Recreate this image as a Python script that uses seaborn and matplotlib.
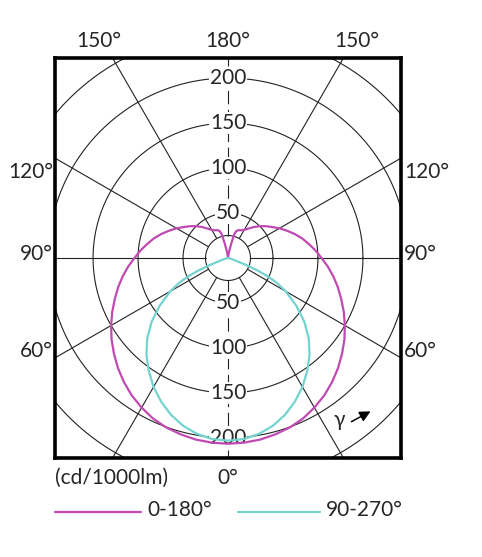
import numpy as np
import pandas as pd
import seaborn as sns
import matplotlib.pyplot as plt
from matplotlib.lines import Line2D

# Lichtstärkeverteilung (cd/1000lm), Winkel gamma von unten (0°) nach oben (180°)
gamma_c0 = [0, 5, 10, 15, 20, 25, 30, 35, 40, 45, 50, 55, 60, 65, 70, 75, 80, 85, 90,
            95, 100, 105, 110, 115, 120, 125, 130, 135, 140, 145, 150, 155, 160, 163,
            165, 167, 169, 172, 180]
intensity_c0 = [206.5, 206, 205, 203, 200.5, 197, 192, 186.5, 180, 173, 165.5, 158, 150,
                142, 134, 126.5, 119, 111.5, 104, 97.5, 91, 85, 78.5, 72, 66, 60, 55, 50,
                45, 40, 36, 34, 33, 31, 28, 18, 10, 5, 0]

gamma_c90 = [0, 5, 10, 15, 20, 25, 30, 35, 40, 45, 50, 55, 60, 63, 65, 67, 68, 69, 70,
             75, 80, 90]
intensity_c90 = [203, 202, 198.5, 193, 185.5, 176, 165.5, 153.5, 141, 127, 111, 93, 74, 61,
                 50, 37, 28, 20, 12, 4, 2, 0]

plane_names = ['0-180°', '90-270°']
plane_colors = {'0-180°': '#c04ab2', '90-270°': '#72d3cf'}

ring_values = [25, 50, 100, 150, 200, 250, 300]
ring_labels = [50, 100, 150, 200]
spoke_angles = [30, 60, 90, 120, 150]


def to_xy(gammas, values):
    # linke Hälfte (C180 / C270) und rechte Hälfte (C0 / C90) spiegeln
    g = np.radians(np.array(gammas, dtype=float))
    v = np.array(values, dtype=float)
    x = np.concatenate([-(v * np.sin(g))[::-1], v * np.sin(g)])
    y = np.concatenate([-(v * np.cos(g))[::-1], -v * np.cos(g)])
    return x, y


frames = []
for name, gam, val in [(plane_names[0], gamma_c0, intensity_c0),
                       (plane_names[1], gamma_c90, intensity_c90)]:
    x, y = to_xy(gam, val)
    frames.append(pd.DataFrame({'x': x, 'y': y, 'plane': name}))
curve_data = pd.concat(frames, ignore_index=True)

sns.set_style('white')
plt.rcParams['font.family'] = ['Lato', 'DejaVu Sans']

W, H = 482, 557
fig = plt.figure(figsize=(W / 100, H / 100), dpi=100)
ax = fig.add_axes([55 / W, 1 - 458 / H, 346 / W, 400 / H])

# Gitter: Kreise und Strahlen
t = np.linspace(0, 2 * np.pi, 400)
for r in ring_values:
    ax.plot(r * np.cos(t), r * np.sin(t), color='#222222', lw=0.8, zorder=1)
for a in spoke_angles:
    ar = np.radians(a)
    for s in (-1, 1):
        ax.plot([s * 25 * np.sin(ar), s * 400 * np.sin(ar)],
                [-25 * np.cos(ar), -400 * np.cos(ar)], color='#222222', lw=0.8, zorder=1)
for s in (-1, 1):
    ax.plot([0, 0], [s * 25, s * 400], color='#222222', lw=0.8,
            dashes=(12, 5), zorder=1)

for v in ring_labels:
    for s in (-1, 1):
        ax.text(0, s * v, str(v), ha='center', va='center', fontsize=15, zorder=4,
                bbox=dict(facecolor='white', edgecolor='none', pad=0.5))

# Kurven
sns.lineplot(data=curve_data, x='x', y='y', hue='plane', palette=plane_colors,
             sort=False, estimator=None, units='plane', legend=False,
             lw=1.6, ax=ax, zorder=5)

ax.set_xlim(-192.3, 192.3)
ax.set_ylim(-222, 222)
ax.set_aspect('equal')
ax.set_xticks([])
ax.set_yticks([])
ax.set_xlabel('')
ax.set_ylabel('')
for sp in ax.spines.values():
    sp.set_linewidth(2.6)
    sp.set_color('black')
    sp.set_zorder(6)


def fx(px):
    return px / W


def fy(py):
    return 1 - py / H


# Winkelbeschriftung
fs = 15
fig.text(fx(99), fy(41), '150°', ha='center', va='center', fontsize=fs)
fig.text(fx(228), fy(41), '180°', ha='center', va='center', fontsize=fs)
fig.text(fx(357), fy(41), '150°', ha='center', va='center', fontsize=fs)
for lab, py in [('120°', 172), ('90°', 254), ('60°', 351)]:
    fig.text(fx(53), fy(py), lab, ha='right', va='center', fontsize=fs)
    fig.text(fx(404), fy(py), lab, ha='left', va='center', fontsize=fs)
fig.text(fx(228), fy(478), '0°', ha='center', va='center', fontsize=fs)
fig.text(fx(55), fy(478), '(cd/1000lm)', ha='left', va='center', fontsize=fs)

# gamma-Pfeil
fig.text(fx(339), fy(420), 'γ', ha='center', va='center', fontsize=fs)
ax.annotate('', xy=(373, H - 410), xytext=(349, H - 423),
            xycoords='figure pixels', textcoords='figure pixels',
            arrowprops=dict(arrowstyle='-|>', color='black', lw=1.1, mutation_scale=16))

# Legende
fig.add_artist(Line2D([fx(55), fx(141)], [fy(512), fy(512)], color=plane_colors[plane_names[0]], lw=1.6))
fig.text(fx(147), fy(510), plane_names[0], ha='left', va='center', fontsize=fs)
fig.add_artist(Line2D([fx(238), fx(320)], [fy(512), fy(512)], color=plane_colors[plane_names[1]], lw=1.6))
fig.text(fx(326), fy(510), plane_names[1], ha='left', va='center', fontsize=fs)

fig.savefig('out.png', dpi=100)
